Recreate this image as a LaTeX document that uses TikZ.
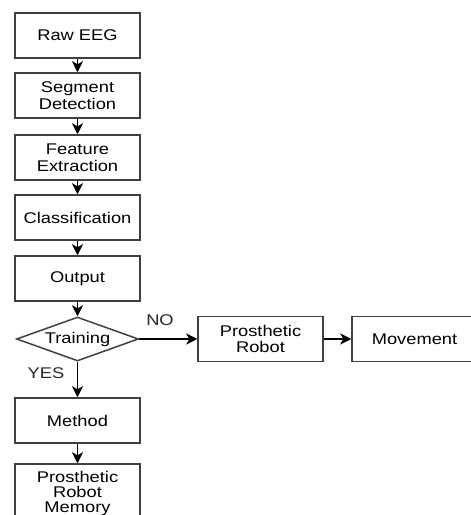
\documentclass[tikz,border=0pt]{standalone}
\usepackage{fontspec}
\setmainfont{Liberation Sans}[FakeStretch=1.18]
\usetikzlibrary{arrows.meta,shapes.geometric}
\begin{document}
\begin{tikzpicture}[x=1pt, y=-1pt,
	stepbox/.style = {draw = black!75, line width = 1.5pt,
					  minimum width = 125pt, minimum height = 45pt,
					  align = center, inner sep = 0pt,
					  font = \fontsize{15.5}{16.7}\selectfont},
	decision/.style = {draw = black!75, line width = 1.5pt, shape = diamond,
					   minimum width = 122pt, minimum height = 44pt,
					   shape aspect = 2.77, inner sep = 0pt,
					   font = \fontsize{15.5}{16.7}\selectfont},
	flow/.style = {line width = 1.4pt,
				   -{Stealth[length=11pt, width=11pt, inset=3pt]}},
	answer/.style = {font = \fontsize{15.5}{16.7}\selectfont, text = black!85}]

	\useasboundingbox (0,0) rectangle (471,515);
	\clip (0,0) rectangle (471,515);

	\draw (77.5,35.5) node[stepbox] (raw) {Raw EEG};
	\draw (77.5,95.5) node[stepbox] (seg) {Segment\\Detection};
	\draw (77.5,157.5) node[stepbox] (feat) {Feature\\Extraction};
	\draw (77.5,217.5) node[stepbox] (cls) {Classification};
	\draw (77.5,278.5) node[stepbox] (out) {Output};
	\draw (77.5,339) node[decision] (train) {Training};
	\draw (77.5,420.5) node[stepbox] (meth) {Method};
	\draw (77.5,496.5) node[stepbox, text depth = 9pt,
					 font = \fontsize{15.5}{15}\selectfont,
					 minimum height = 65pt] (mem) {Prosthetic\\Robot\\Memory};

	\draw (260.5,339) node[stepbox] (robot) {Prosthetic\\Robot};
	\draw (414.5,339) node[stepbox] (move) {Movement};

	\draw[flow] (raw) -- (seg);
	\draw[flow] (seg) -- (feat);
	\draw[flow] (feat) -- (cls);
	\draw[flow] (cls) -- (out);
	\draw[flow] (out) -- (train);
	\draw[flow] (train) -- (meth);
	\draw[flow] (meth) -- (mem);
	\draw[flow] (train) -- (robot);
	\draw[flow] (robot) -- (move);

	\draw (160,320) node[answer] (no) {NO};
	\draw (46,373) node[answer] (yes) {YES};
\end{tikzpicture}
\end{document}
